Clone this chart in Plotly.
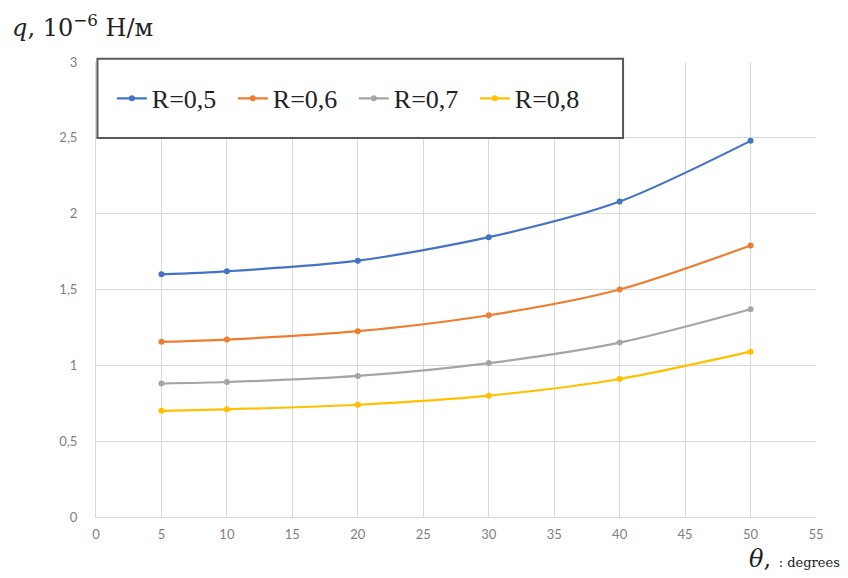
import plotly.graph_objects as go

theta = [5, 10, 20, 30, 40, 50]
series_names = ["R=0,5", "R=0,6", "R=0,7", "R=0,8"]
q_r05 = [1.60, 1.62, 1.69, 1.845, 2.08, 2.48]
q_r06 = [1.155, 1.17, 1.225, 1.33, 1.50, 1.79]
q_r07 = [0.88, 0.89, 0.93, 1.015, 1.15, 1.37]
q_r08 = [0.70, 0.71, 0.74, 0.80, 0.91, 1.09]
colors = ["#4472C4", "#ED7D31", "#A5A5A5", "#FFC000"]

x_ticks = list(range(0, 56, 5))
y_ticks = [0, 0.5, 1, 1.5, 2, 2.5, 3]

fig = go.Figure()
for name, vals, c in zip(series_names, [q_r05, q_r06, q_r07, q_r08], colors):
    fig.add_trace(go.Scatter(
        x=theta, y=vals, name=name, mode="lines+markers",
        line=dict(color=c, width=2.2, shape="spline", smoothing=0.8),
        marker=dict(color=c, size=6),
    ))

fig.add_shape(type="rect", xref="paper", yref="paper",
              x0=0.002, x1=0.732, y0=0.833, y1=1.007,
              line=dict(color="#595959", width=2), fillcolor="white", layer="above")

fig.update_layout(
    width=841, height=571,
    margin=dict(l=88, r=33, t=54, b=62),
    plot_bgcolor="white", paper_bgcolor="white",
    separators=", ",
    showlegend=True,
    legend=dict(orientation="h", x=0.022, y=0.92, xanchor="left", yanchor="middle",
                font=dict(family="Liberation Serif", size=26, color="#222"),
                bgcolor="rgba(0,0,0,0)", borderwidth=0,
                entrywidth=76, entrywidthmode="pixels", itemwidth=30),
    xaxis=dict(range=[0, 55], tickvals=x_ticks, showgrid=True, gridcolor="#D9D9D9",
               zeroline=False, showline=True, linecolor="#D9D9D9", linewidth=1,
               tickfont=dict(family="Lato", size=13, color="#7F7F7F"), ticks="",
               ticklabelstandoff=5),
    yaxis=dict(range=[0, 3], tickvals=y_ticks, showgrid=True, gridcolor="#D9D9D9",
               zeroline=False, showline=True, linecolor="#D9D9D9", linewidth=1,
               tickfont=dict(family="Lato", size=13, color="#7F7F7F"), ticks="",
               ticklabelstandoff=15),
    annotations=[
        dict(text="<i>q</i>, 10<sup>−6</sup> Н/м", xref="paper", yref="paper",
             x=-0.12, y=1.04, xanchor="left", yanchor="bottom", showarrow=False,
             font=dict(family="DejaVu Serif", size=24, color="#222")),
        dict(text="<i>θ</i>, <span style='font-size:13px'>: degrees</span>", xref="paper", yref="paper",
             x=1.036, y=-0.128, xanchor="right", yanchor="bottom", showarrow=False,
             font=dict(family="DejaVu Serif", size=24, color="#222")),
    ],
)

fig.write_html("out.html")
